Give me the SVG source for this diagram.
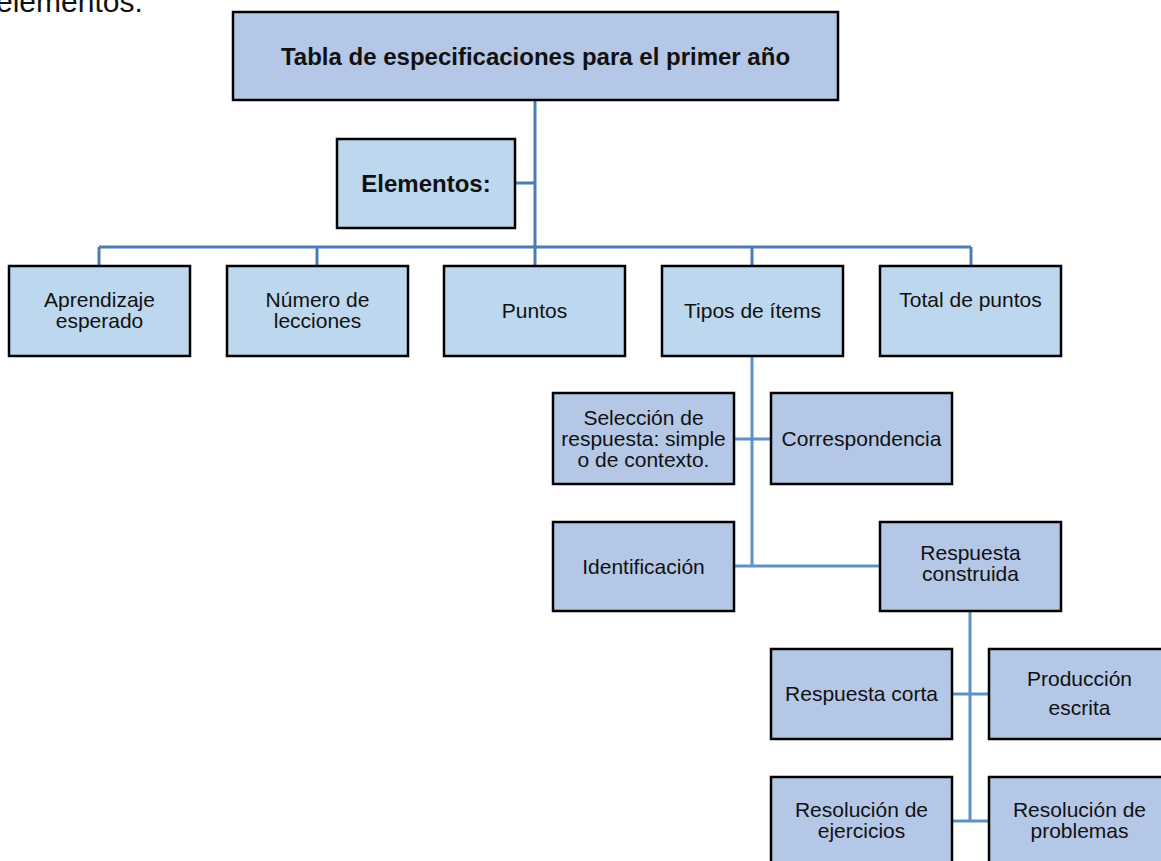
<svg xmlns="http://www.w3.org/2000/svg" width="1161" height="861" viewBox="0 0 1161 861">
<style>
.bx{stroke:#000;stroke-width:2.5}
.a{fill:#b4c7e7}
.b{fill:#bdd7ee}
.t{font-family:"Liberation Sans",Arial,sans-serif;font-size:21px;fill:#111;text-anchor:middle}
.tb{font-family:"Liberation Sans",Arial,sans-serif;font-size:24px;font-weight:bold;fill:#111;text-anchor:middle}
.ln{fill:none;stroke:#4a7db5;stroke-width:3}
.ln2{fill:none;stroke:#5b92c8;stroke-width:3}
</style>
<rect width="1161" height="861" fill="#fff"/>
<text x="-4" y="12" font-family="Liberation Sans, Arial, sans-serif" font-size="30" fill="#111">elementos.</text>
<g id="connectors">
<path class="ln" d="M535 100V247M515 183H535M99 247H971M99 247V266M317 247V266M535 247V266M752 247V266M971 247V266"/>
<path class="ln2" d="M752 356V566M734 439H771M734 566H880M970 611V821M952 694H989M952 821H989"/>
</g>
<g id="n-title"><rect class="bx a" x="233" y="12" width="605" height="88"/><text class="tb" x="535.5" y="65">Tabla de especificaciones para el primer año</text></g>
<g id="n-elementos"><rect class="bx b" x="337" y="139" width="178" height="89"/><text class="tb" x="426" y="192">Elementos:</text></g>
<g id="n-aprendizaje"><rect class="bx b" x="9" y="266" width="181" height="90"/><text class="t" x="99.5" y="307">Aprendizaje</text><text class="t" x="99.5" y="328">esperado</text></g>
<g id="n-numero"><rect class="bx b" x="227" y="266" width="181" height="90"/><text class="t" x="317.5" y="307">Número de</text><text class="t" x="317.5" y="328">lecciones</text></g>
<g id="n-puntos"><rect class="bx b" x="444" y="266" width="181" height="90"/><text class="t" x="534.5" y="318">Puntos</text></g>
<g id="n-tipos"><rect class="bx b" x="662" y="266" width="181" height="90"/><text class="t" x="752.5" y="318">Tipos de ítems</text></g>
<g id="n-total"><rect class="bx b" x="880" y="266" width="181" height="90"/><text class="t" x="970.5" y="307">Total de puntos</text></g>
<g id="n-seleccion"><rect class="bx a" x="553" y="393" width="181" height="91"/><text class="t" x="643.5" y="425">Selección de</text><text class="t" x="643.5" y="446">respuesta: simple</text><text class="t" x="643.5" y="467">o de contexto.</text></g>
<g id="n-correspondencia"><rect class="bx a" x="771" y="393" width="181" height="91"/><text class="t" x="861.5" y="446">Correspondencia</text></g>
<g id="n-identificacion"><rect class="bx a" x="553" y="522" width="181" height="89"/><text class="t" x="643.5" y="574">Identificación</text></g>
<g id="n-construida"><rect class="bx a" x="880" y="522" width="181" height="89"/><text class="t" x="970.5" y="560">Respuesta</text><text class="t" x="970.5" y="581">construida</text></g>
<g id="n-corta"><rect class="bx a" x="771" y="649" width="181" height="90"/><text class="t" x="861.5" y="701">Respuesta corta</text></g>
<g id="n-produccion"><rect class="bx a" x="989" y="649" width="181" height="90"/><text class="t" x="1079.5" y="686">Producción</text><text class="t" x="1079.5" y="715">escrita</text></g>
<g id="n-ejercicios"><rect class="bx a" x="771" y="777" width="181" height="92"/><text class="t" x="861.5" y="817">Resolución de</text><text class="t" x="861.5" y="838">ejercicios</text></g>
<g id="n-problemas"><rect class="bx a" x="989" y="777" width="181" height="92"/><text class="t" x="1079.5" y="817">Resolución de</text><text class="t" x="1079.5" y="838">problemas</text></g>
</svg>
